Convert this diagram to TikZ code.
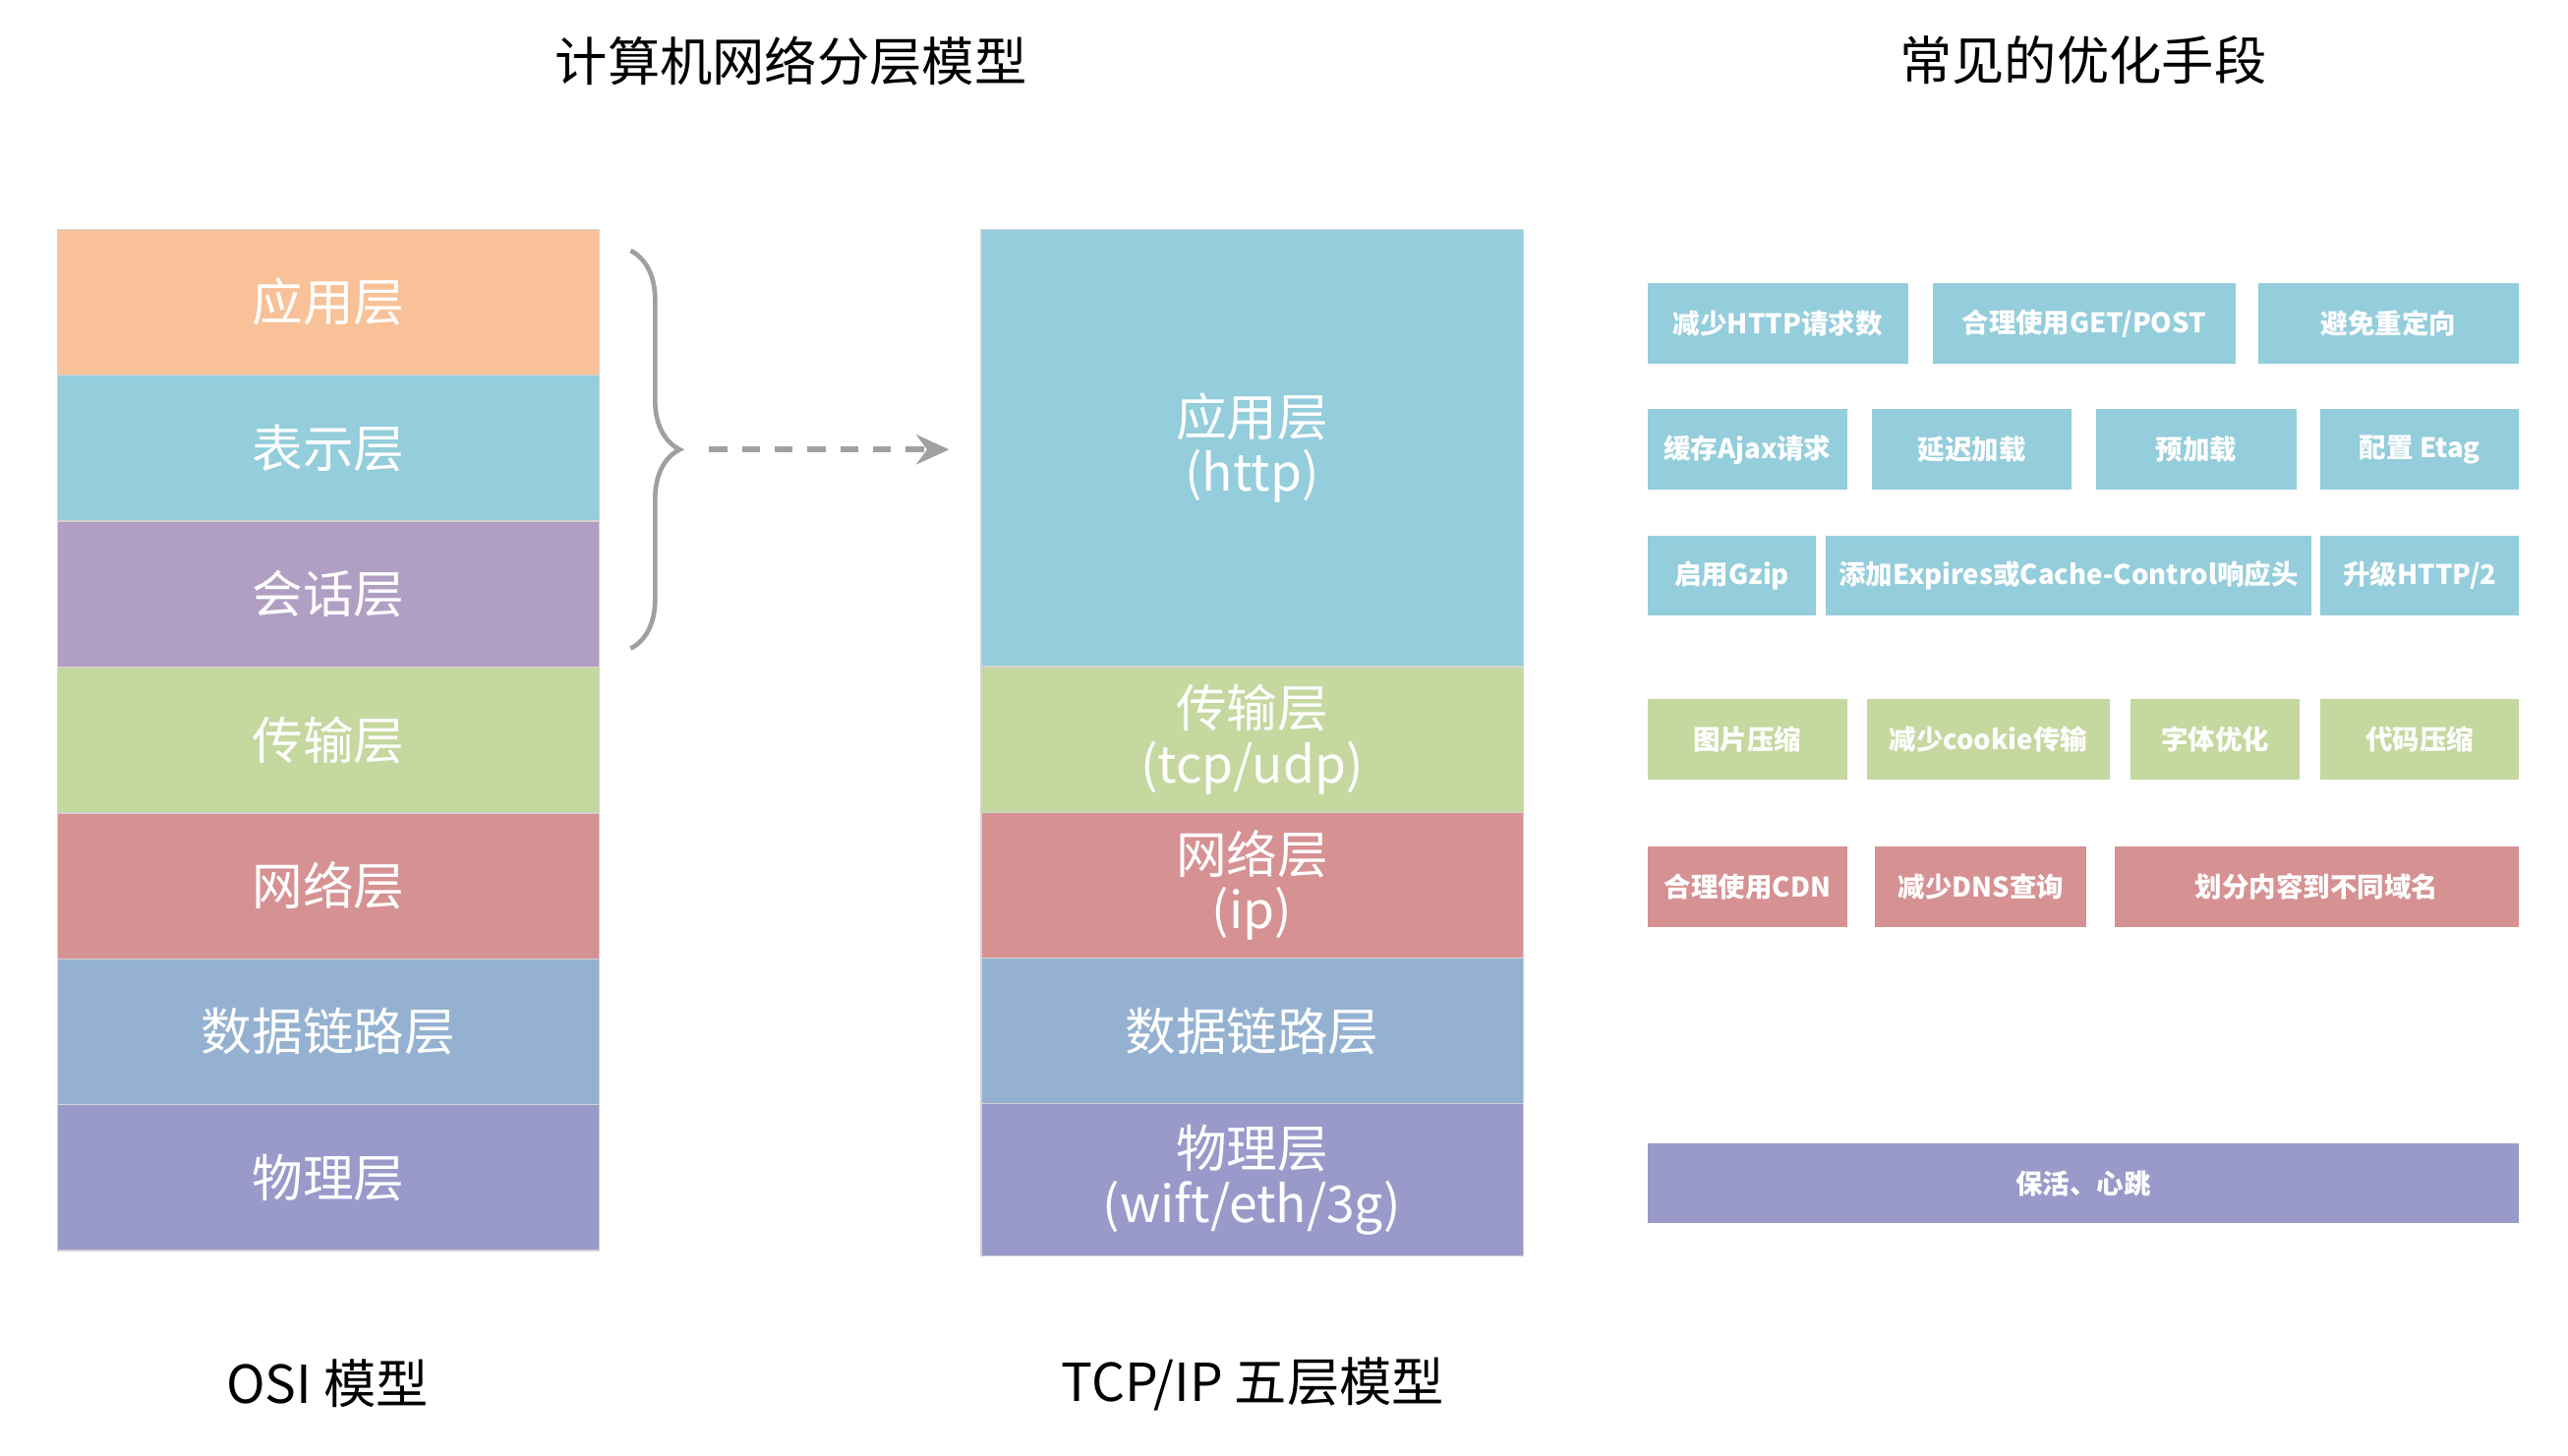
\documentclass[tikz,border=0pt]{standalone}
\usepackage{fontspec}
\setmainfont{Noto Sans CJK SC}
\usepackage{tikz}
\usetikzlibrary{arrows.meta, positioning, decorations.pathreplacing}

\definecolor{vrstvaOr}{RGB}{248,193,152}
\definecolor{vrstvaMo}{RGB}{148,205,219}
\definecolor{vrstvaFi}{RGB}{176,159,195}
\definecolor{vrstvaZe}{RGB}{196,216,159}
\definecolor{vrstvaCe}{RGB}{214,145,146}
\definecolor{vrstvaSm}{RGB}{148,177,209}
\definecolor{vrstvaVi}{RGB}{153,153,202}
\definecolor{seda}{RGB}{160,160,160}

\tikzset{
    layer/.style={rectangle, draw=gray!35, line width=0.8pt, inner sep=0pt, text=white,
        minimum width=331pt, minimum height=89pt, align=center,
        font=\fontsize{31}{34}\selectfont},
    optbox/.style={rectangle, inner sep=0pt, minimum height=49pt, text=white,
        font=\bfseries\fontsize{16.5}{18}\selectfont},
    heading/.style={font=\fontsize{32}{36}\selectfont},
}

\begin{document}
\begin{tikzpicture}[>=Stealth, x=1pt, y=-1pt]
    \useasboundingbox (0,0) rectangle (1568,889);
    % Nadpisy
    \node[heading] (tnet) at (483,37) {计算机网络分层模型};
    \node[heading] (topt) at (1272,37) {常见的优化手段};
    % OSI
    \node[layer, fill=vrstvaOr] (osi1) at (200.5,184.5) {应用层};
    \node[layer, fill=vrstvaMo] (osi2) at (200.5,273.6) {表示层};
    \node[layer, fill=vrstvaFi] (osi3) at (200.5,362.7) {会话层};
    \node[layer, fill=vrstvaZe] (osi4) at (200.5,451.8) {传输层};
    \node[layer, fill=vrstvaCe] (osi5) at (200.5,540.9) {网络层};
    \node[layer, fill=vrstvaSm] (osi6) at (200.5,630.0) {数据链路层};
    \node[layer, fill=vrstvaVi] (osi7) at (200.5,719.1) {物理层};
    \node[heading] (tosi) at (200,845) {OSI 模型};
    % Zavorka a sipka
    \draw[seda, line width=2.8pt, decorate, decoration={brace, amplitude=30pt, aspect=0.5}]
        (385,153) -- (385,396);
    \coordinate (brtip) at (415,274.5);
    % TCP/IP
    \node[layer, fill=vrstvaMo, minimum height=267pt] (tcp1) at (764.5,273.5) {应用层\\(http)};
    \node[layer, fill=vrstvaZe] (tcp2) at (764.5,451.5) {传输层\\(tcp/udp)};
    \node[layer, fill=vrstvaCe] (tcp3) at (764.5,540.5) {网络层\\(ip)};
    \node[layer, fill=vrstvaSm] (tcp4) at (764.5,629.5) {数据链路层};
    \node[layer, fill=vrstvaVi, minimum height=93pt] (tcp5) at (764.5,720.5) {物理层\\(wift/eth/3g)};
    \node[heading] (ttcp) at (765,845) {TCP/IP 五层模型};
    \draw[->, seda, line width=3.5pt, dash pattern=on 11pt off 9pt, shorten <=18pt, shorten >=19pt,
        arrows={-Stealth[length=20pt, width=18pt]}] (brtip) -- (brtip -| tcp1.west);
    % Optimalizace
    \node[optbox, fill=vrstvaMo, minimum width=159pt] (o11) at (1085.5,197.5) {减少HTTP请求数};
    \node[optbox, fill=vrstvaMo, minimum width=185pt] (o12) at (1272.5,197.5) {合理使用GET/POST};
    \node[optbox, fill=vrstvaMo, minimum width=159pt] (o13) at (1458.5,197.5) {避免重定向};
    \node[optbox, fill=vrstvaMo, minimum width=122pt] (o21) at (1067,274.5) {缓存Ajax请求};
    \node[optbox, fill=vrstvaMo, minimum width=122pt] (o22) at (1204,274.5) {延迟加载};
    \node[optbox, fill=vrstvaMo, minimum width=122pt] (o23) at (1341,274.5) {预加载};
    \node[optbox, fill=vrstvaMo, minimum width=121pt] (o24) at (1477.5,274.5) {配置 Etag};
    \node[optbox, fill=vrstvaMo, minimum width=103pt] (o31) at (1057.5,351.5) {启用Gzip};
    \node[optbox, fill=vrstvaMo, minimum width=296pt] (o32) at (1263,351.5) {添加Expires或Cache-Control响应头};
    \node[optbox, fill=vrstvaMo, minimum width=121pt] (o33) at (1477.5,351.5) {升级HTTP/2};
    \node[optbox, fill=vrstvaZe, minimum width=122pt] (o41) at (1067,451.5) {图片压缩};
    \node[optbox, fill=vrstvaZe, minimum width=148pt] (o42) at (1214,451.5) {减少cookie传输};
    \node[optbox, fill=vrstvaZe, minimum width=103pt] (o43) at (1352.5,451.5) {字体优化};
    \node[optbox, fill=vrstvaZe, minimum width=121pt] (o44) at (1477.5,451.5) {代码压缩};
    \node[optbox, fill=vrstvaCe, minimum width=122pt] (o51) at (1067,541.5) {合理使用CDN};
    \node[optbox, fill=vrstvaCe, minimum width=129pt] (o52) at (1209.5,541.5) {减少DNS查询};
    \node[optbox, fill=vrstvaCe, minimum width=247pt] (o53) at (1414.5,541.5) {划分内容到不同域名};
    \node[optbox, fill=vrstvaVi, minimum width=532pt] (o61) at (1272,722.5) {保活、心跳};
\end{tikzpicture}
\end{document}
